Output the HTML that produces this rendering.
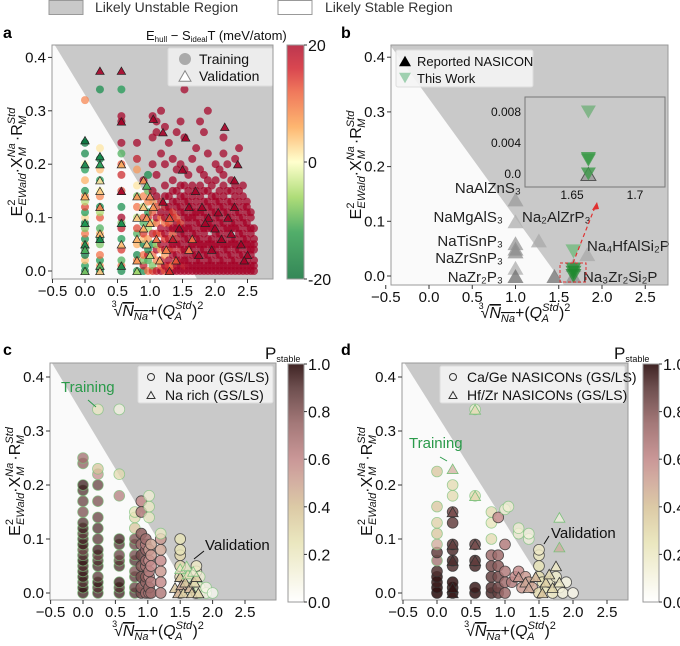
<!DOCTYPE html>
<html><head><meta charset="utf-8">
<style>
html,body{margin:0;padding:0;background:#fff;}
svg{display:block;font-family:"Liberation Sans",Arial,sans-serif;}
</style></head>
<body>
<svg id="fig" width="680" height="646" viewBox="0 0 680 646" xmlns="http://www.w3.org/2000/svg">
<defs>
<linearGradient id="rdylgn" x1="0" y1="1" x2="0" y2="0">
<stop offset="0" stop-color="#1e7a45"/><stop offset="0.2" stop-color="#3fa55a"/><stop offset="0.35" stop-color="#a6d96a"/>
<stop offset="0.5" stop-color="#ffffc8"/><stop offset="0.65" stop-color="#fdae61"/><stop offset="0.8" stop-color="#ee6a4a"/>
<stop offset="0.9" stop-color="#d5333d"/><stop offset="1" stop-color="#b5213c"/></linearGradient>
<linearGradient id="pinkr" x1="0" y1="1" x2="0" y2="0">
<stop offset="0" stop-color="#ffffff"/><stop offset="0.25" stop-color="#e8e4b8"/><stop offset="0.4" stop-color="#d8c49c"/>
<stop offset="0.5" stop-color="#cfa898"/><stop offset="0.6" stop-color="#c48c8c"/><stop offset="0.75" stop-color="#9a6a6a"/>
<stop offset="0.9" stop-color="#5e3c3c"/><stop offset="1" stop-color="#2a0c0c"/></linearGradient>
</defs>

<g>
<rect x="49" y="0.5" width="34" height="14" fill="#c9c9c9" stroke="#999"/>
<text x="95" y="12" font-size="14" fill="#333">Likely Unstable Region</text>
<rect x="278" y="0.5" width="34" height="14" fill="#fff" stroke="#999"/>
<text x="325" y="12" font-size="14" fill="#333">Likely Stable Region</text>
</g>

<text x="3" y="38" font-size="16" font-weight="bold">a</text>
<text x="341" y="38" font-size="16" font-weight="bold">b</text>
<text x="3" y="355" font-size="16" font-weight="bold">c</text>
<text x="341" y="355" font-size="16" font-weight="bold">d</text>

<g id="pa"></g>
<g id="pb"></g>
<g id="pc"></g>
<g id="pd"></g>
</svg>

<script>
const xTicks = [-0.5, 0.0, 0.5, 1.0, 1.5, 2.0, 2.5];
const xTickLabels = ["\u22120.5", "0.0", "0.5", "1.0", "1.5", "2.0", "2.5"];
const yTicks = [0.0, 0.1, 0.2, 0.3, 0.4];
const yTickLabels = ["0.0", "0.1", "0.2", "0.3", "0.4"];
const boundaryX = [-0.5, 1.65];
const boundaryY = [0.43, 0.0];
const boundaryBX = [-0.44, 1.56];
const boundaryBY = [0.42, -0.016];

const aColX = [0.0, 0.23, 0.56, 0.8, 0.9, 0.97, 1.04, 1.1, 1.17, 1.23, 1.29, 1.35, 1.41, 1.47, 1.53, 1.59, 1.65, 1.71, 1.77, 1.83, 1.89, 1.95, 2.01, 2.07, 2.13, 2.19, 2.25, 2.31, 2.37, 2.43, 2.49, 2.55, 2.6];
const aColY = [
 [0,.01,.02,.03,.04,.05,.06,.07,.08,.09,.1,.11,.12,.13,.14,.15,.17,.19,.2,.22,.24,.32],
 [0,.01,.02,.03,.05,.06,.07,.08,.1,.11,.12,.14,.15,.17,.19,.21,.23,.34],
 [0,.01,.02,.04,.06,.08,.09,.1,.12,.15,.18,.2,.22,.24,.28,.29,.34],
 [0,.02,.03,.05,.07,.08,.1,.12,.14,.16,.19,.21,.24],
 [0,.01,.02,.03,.05,.06,.07,.09,.1,.12,.14,.17],
 [0,.02,.03,.04,.06,.08,.1,.11,.13,.15,.18],
 [0,.01,.03,.05,.07,.09,.11,.13,.15,.2,.25,.29],
 [0,.02,.04,.05,.07,.09,.1,.12,.14,.18,.26,.28],
 [0,.01,.02,.04,.05,.07,.08,.1,.11,.13,.22,.3],
 [0,.01,.03,.04,.06,.07,.09,.1,.12,.14,.16,.2,.27],
 [0,.01,.02,.04,.05,.06,.08,.09,.11,.12,.14,.24],
 [0,.01,.03,.04,.05,.07,.08,.1,.11,.13,.15,.17,.21],
 [0,.01,.02,.03,.05,.06,.08,.09,.1,.12,.13,.15,.19,.26],
 [0,.01,.02,.04,.05,.07,.08,.09,.11,.12,.14,.16,.2,.28],
 [0,.01,.02,.03,.04,.06,.07,.08,.1,.11,.13,.14,.16,.19,.25,.34],
 [0,.01,.02,.04,.05,.06,.08,.09,.1,.12,.13,.15,.18],
 [0,.01,.03,.04,.05,.07,.08,.1,.11,.12,.14,.16,.21],
 [0,.01,.02,.03,.05,.06,.07,.09,.1,.11,.13,.15,.23],
 [0,.01,.02,.04,.05,.06,.08,.09,.11,.12,.14,.16,.19,.28],
 [0,.01,.03,.04,.05,.07,.08,.1,.11,.13,.15,.18,.26],
 [0,.01,.02,.03,.05,.06,.08,.09,.1,.12,.13,.15,.17,.22,.3],
 [0,.01,.02,.04,.05,.06,.08,.09,.11,.12,.14,.16],
 [0,.01,.03,.04,.05,.07,.08,.1,.11,.13,.14,.17,.2],
 [0,.01,.02,.03,.05,.06,.07,.09,.1,.12,.13,.15,.19],
 [0,.01,.02,.04,.05,.06,.08,.09,.11,.12,.14,.16,.18,.22,.25],
 [0,.01,.03,.04,.05,.07,.08,.1,.11,.13,.15,.2],
 [0,.01,.02,.03,.05,.06,.08,.09,.1,.12,.13,.15,.17],
 [0,.01,.02,.04,.05,.06,.08,.09,.11,.12,.14,.16,.21],
 [0,.01,.03,.04,.05,.07,.08,.1,.11,.13,.15,.23],
 [0,.01,.02,.03,.05,.06,.07,.09,.1,.12,.14,.16],
 [0,.01,.02,.04,.05,.06,.08,.09,.11,.12,.13],
 [0,.01,.03,.04,.05,.07,.08,.1,.11],
 [0,.01,.02,.04,.05,.06,.08]
];
const aColC = [
 [-15,-12,5,-18,-10,8,-14,12,-8,-16,3,-12,15,-5,10,-14,6,-12,0,-15,-18,10],
 [-16,8,-12,12,-8,-15,6,-10,14,-6,-14,10,0,-12,5,-16,2,-14],
 [-15,12,-10,16,-12,18,-8,20,-14,15,17,14,-10,20,20,20,-12],
 [-12,10,-15,6,-10,15,-5,12,-8,2,8,18,20],
 [-14,18,-8,12,-16,5,16,-10,14,-5,10,20],
 [12,-10,18,-14,8,-6,16,-12,10,-8,-14],
 [16,-8,12,-14,18,-5,14,8,20,20,20,20],
 [18,10,20,-6,16,12,20,14,20,20,20,20],
 [20,12,18,6,20,14,20,10,20,18,20,20],
 [14,20,8,20,16,20,12,20,18,20,20,20,20],
 [20,16,20,10,20,18,20,14,20,20,20,20],
 [20,12,20,18,20,14,20,20,16,20,20,20,20],
 [20,20,16,20,20,18,20,20,14,20,20,20,20,20],
 [20,20,20,18,20,20,20,16,20,20,20,20,20,20],
 [20,18,20,20,20,20,20,20,20,20,20,20,20,20,20,20],
 [20,20,20,20,20,20,20,20,20,20,20,20,20],
 [20,20,20,20,20,20,20,20,20,20,20,20,20],
 [20,20,20,20,20,20,20,20,20,20,20,20,20],
 [20,20,20,20,20,20,20,20,20,20,20,20,20,20],
 [20,20,20,20,20,20,20,20,20,20,20,20,20],
 [20,20,20,20,20,20,20,20,20,20,20,20,20,20,20],
 [20,20,20,20,20,20,20,20,20,20,20,20],
 [20,20,20,20,20,20,20,20,20,20,20,20,20],
 [20,20,20,20,20,20,20,20,20,20,20,20,20],
 [20,20,20,20,20,20,20,20,20,20,20,20,20,20,20],
 [20,20,20,20,20,20,20,20,20,20,20,20],
 [20,20,20,20,20,20,20,20,20,20,20,20,20],
 [20,20,20,20,20,20,20,20,20,20,20,20,20],
 [20,20,20,20,20,20,20,20,20,20,20,20],
 [20,20,20,20,20,20,20,20,20,20,20,20],
 [20,20,20,20,20,20,20,20,20,20,20],
 [20,20,20,20,20,20,20,20,20],
 [20,20,20,20,20,20,20]
];
const aTriX = [0,0,0,0,0,0,0,0.23,0.23,0.23,0.23,0.23,0.23,0.23,0.23,0.23,0.23,0.56,0.56,0.56,0.56,0.56,0.56,0.56,0.8,0.8,0.8,0.8,0.8,0.9,0.9,0.9,0.95,0.95,0.95,1.0,1.0,1.0,1.05,1.05,1.1,1.2,1.2,1.3,1.35,1.55,1.5,1.6,2.15,2.35,2.3,1.8,2.0,2.2,2.4,2.5,1.7,1.9,2.1,2.3,1.4,1.25,1.15,1.45,1.65,1.75,1.85,1.95,2.05,2.25,2.45,1.6,1.3];
const aTriY = [0.245,0.2,0.14,0.09,0.05,0.04,0.0,0.375,0.215,0.2,0.17,0.15,0.12,0.07,0.06,0.01,0.0,0.375,0.28,0.2,0.15,0.09,0.05,0.01,0.14,0.1,0.06,0.02,0.0,0.17,0.12,0.08,0.16,0.1,0.05,0.14,0.09,0.03,0.285,0.12,0.06,0.26,0.13,0.1,0.06,0.25,0.19,0.04,0.27,0.2,0.17,0.12,0.08,0.1,0.05,0.03,0.15,0.1,0.06,0.12,0.02,0.04,0.02,0.08,0.06,0.03,0.09,0.04,0.11,0.07,0.02,0.12,0.0];
const aTriC = [-18,-16,6,-12,-15,-10,-8,20,-15,-12,2,4,10,5,-14,-10,4,20,20,6,20,-14,5,-14,8,4,6,8,-6,8,4,6,-10,8,4,10,6,-5,20,8,12,20,20,14,18,20,20,10,20,20,20,20,20,20,20,20,20,20,20,20,14,10,6,20,12,20,20,20,20,20,20,20,16];

const bRepX = [1.0, 1.0, 1.0, 1.0, 1.0, 1.0, 1.0, 1.27, 1.45, 1.67, 1.67, 1.83];
const bRepY = [0.14, 0.10, 0.06, 0.05, 0.045, 0.015, 0.0, 0.065, 0.0, 0.0, 0.02, 0.04];
const bRepShade = [0.35, 0.2, 0.4, 0.45, 0.45, 0.2, 0.7, 0.25, 0.7, 0.45, 0.3, 0.25];
const bWorkX = [1.67, 1.67, 1.67, 1.67];
const bWorkY = [0.045, 0.012, 0.006, 0.0];
const bInsetWorkY = [0.008, 0.002, 0.0018, 0.0];
const bInsetRepY = [0.0];
const bInsetX = [1.663];
const bLabels = ["NaAlZnS\u2083", "NaMgAlS\u2083", "NaTiSnP\u2083", "NaZrSnP\u2083", "NaZr\u2082P\u2083", "Na\u2082AlZrP\u2083", "Na\u2084HfAlSi\u2082P", "Na\u2083Zr\u2082Si\u2082P"];

const cCircX = [0,0,0,0,0,0,0,0,0,0,0,0,0,0,0,0,0,0,0,0,
 0.23,0.23,0.23,0.23,0.23,0.23,0.23,0.23,0.23,0.23,0.23,0.23,0.23,0.23,0.23,0.23,
 0.56,0.56,0.56,0.56,0.56,0.56,0.56,0.56,0.56,0.56,0.56,
 0.8,0.8,0.8,0.8,0.8,0.8,0.8,0.8,0.8,0.8,0.8,
 0.9,0.9,0.9,0.9,0.9,0.9,0.9,0.9,0.9,
 0.97,0.97,0.97,0.97,0.97,0.97,0.97,0.97,
 1.02,1.02,1.02,1.02,1.02,1.02,1.02,1.02,1.02,
 1.05,1.05,1.05,1.05,1.05,
 1.2,1.2,1.2,1.2,1.2,1.2,1.2,
 1.5,1.5,1.5,1.5,1.5,1.5,
 1.62,1.62,1.75,1.75,1.75,1.75,1.8,1.8,1.8,1.9,1.9,2.0];
const cCircY = [0,.01,.02,.03,.04,.05,.06,.07,.08,.09,.1,.11,.12,.13,.15,.17,.19,.2,.24,.25,
 0,.01,.02,.03,.05,.06,.07,.08,.1,.12,.14,.17,.2,.22,.23,.34,
 0,.01,.02,.05,.06,.07,.09,.1,.18,.22,.34,
 0,.01,.03,.04,.06,.07,.09,.1,.12,.14,.15,
 0,.01,.03,.05,.07,.09,.11,.15,.17,
 0,.02,.03,.05,.06,.08,.09,.1,
 0,.01,.03,.04,.06,.08,.14,.16,.18,
 0,.02,.05,.07,.09,
 0,.02,.04,.06,.08,.1,.11,
 0,.03,.05,.07,.08,.1,
 .01,.03,0,.02,.04,.05,0,.01,.03,0,.01,0];
const cCircP = [0.95,0.98,0.9,0.97,0.95,0.92,0.98,0.9,0.85,0.97,0.93,0.88,0.95,0.9,0.8,0.85,0.9,0.95,0.75,0.7,
 0.95,0.9,0.97,0.88,0.93,0.9,0.85,0.95,0.88,0.9,0.85,0.8,0.85,0.6,0.4,0.2,
 0.95,0.9,0.97,0.92,0.88,0.85,0.9,0.93,0.65,0.3,0.1,
 0.9,0.85,0.88,0.8,0.9,0.82,0.85,0.8,0.4,0.3,0.25,
 0.8,0.75,0.8,0.78,0.82,0.7,0.75,0.65,0.6,
 0.7,0.72,0.75,0.68,0.7,0.72,0.65,0.7,
 0.65,0.7,0.6,0.65,0.6,0.55,0.2,0.2,0.15,
 0.7,0.65,0.6,0.55,0.5,
 0.65,0.6,0.55,0.6,0.5,0.55,0.2,
 0.35,0.3,0.3,0.3,0.25,0.25,
 0.2,0.15,0.3,0.25,0.2,0.2,0.2,0.15,0.15,0.1,0.08,0.05];
const cCircV = [0,0,0,0,0,0,0,0,0,0,0,0,0,0,0,0,0,0,0,0,
 0,0,0,0,0,0,0,0,0,0,0,0,0,0,0,0,
 0,0,0,0,0,0,0,0,0,0,0,
 0,0,0,0,0,0,0,0,0,0,0,
 1,1,1,1,1,1,1,1,1,
 1,1,1,1,1,1,1,1,
 1,1,1,1,1,1,0,0,0,
 1,1,1,1,1,
 1,1,1,1,1,1,0,
 1,1,1,1,1,1,
 0,0,1,1,1,1,0,0,0,0,0,0];
const cTriX = [1.42,1.47,1.5,1.52,1.55,1.58,1.62,1.65,1.68,1.72,1.75,1.78,1.5,1.6,1.7];
const cTriY = [0.01,0.0,0.03,0.015,0.0,0.02,0.035,0.01,0.0,0.02,0.03,0.0,0.045,0.05,0.04];
const cTriP = [0.4,0.45,0.4,0.5,0.35,0.4,0.3,0.45,0.35,0.3,0.35,0.3,0.2,0.2,0.15];
const cTriV = [1,1,1,1,1,1,0,1,1,1,1,1,0,0,0];

const dCircX = [0,0,0,0,0,0,0,0,0,0,0,0,
 0.23,0.23,0.23,0.23,0.23,0.23,0.23,0.23,0.23,0.23,0.23,
 0.56,0.56,0.56,0.56,0.56,0.56,0.56,
 0.8,0.8,0.8,0.8,0.8,0.8,0.8,0.8,
 0.9,0.9,0.9,0.9,0.9,0.9,
 1.0,1.0,1.0,1.0,1.0,1.05,
 1.1,1.15,1.2,1.25,1.3,1.35,1.4,1.2,1.2,1.35,1.35,
 1.5,1.5,1.5,1.5,1.5,1.55,1.6,1.65,1.7,1.75,1.8,1.85,1.9,2.0];
const dCircY = [0,.01,.02,.03,.04,.06,.075,.09,.11,.13,.16,.225,
 0,.01,.02,.05,.06,.08,.09,.13,.15,.18,.2,
 0,.01,.05,.06,.09,.18,.34,
 0,.01,.03,.05,.07,.1,.13,.15,
 0,.01,.03,.05,.07,.14,
 0,.02,.04,.09,.155,.16,
 .02,.03,.04,.01,.03,.02,.01,.11,.12,.1,.11,
 0,.03,.05,.07,.08,.02,.01,.02,.0,.03,.01,.0,.02,0];
const dCircP = [1,0.98,0.95,0.97,0.9,0.7,0.85,0.5,0.4,0.35,0.4,0.4,
 0.98,0.95,0.97,0.9,0.92,0.9,0.88,0.85,0.8,0.3,0.3,
 0.97,0.95,0.92,0.9,0.85,0.3,0.15,
 0.9,0.88,0.85,0.8,0.7,0.3,0.25,0.3,
 0.85,0.82,0.8,0.75,0.7,0.6,
 0.7,0.7,0.65,0.65,0.15,0.15,
 0.65,0.6,0.6,0.55,0.55,0.5,0.5,0.15,0.15,0.12,0.12,
 0.3,0.28,0.25,0.22,0.2,0.25,0.25,0.2,0.2,0.18,0.15,0.12,0.1,0.08];
const dCircV = [1,1,1,1,1,0,1,0,0,0,0,0,
 1,1,1,1,1,1,1,1,1,0,0,
 1,1,1,1,1,0,0,
 1,1,1,1,1,0,0,0,
 1,1,1,1,1,1,
 1,1,1,1,0,0,
 1,1,1,1,1,1,1,0,0,0,0,
 1,1,1,1,1,1,1,1,1,1,1,1,1,1];
const dTriX = [0.23,0.23,0.23,0.23,0.23,0.23,0.56,0.56,0.56,0.56,1.2,1.3,1.35,1.45,1.55,1.6,1.65,1.7,1.75,1.8,1.8,1.8];
const dTriY = [0,0.01,0.06,0.09,0.15,0.23,0.34,0.18,0.06,0.09,0.03,0.02,0.01,0.03,0.0,0.02,0.035,0.01,0.05,0.02,0.14,0.085];
const dTriP = [0.95,0.97,0.9,0.85,0.8,0.5,0.3,0.3,0.85,0.8,0.55,0.5,0.5,0.45,0.4,0.35,0.3,0.3,0.2,0.2,0.1,0.5];
const dTriV = [1,1,1,1,1,0,0,0,1,1,1,1,1,1,1,1,1,1,1,1,0,0];

const NS = "http://www.w3.org/2000/svg";
function mk(parent, tag, attrs) {
  const e = document.createElementNS(NS, tag);
  for (const k in attrs) e.setAttribute(k, attrs[k]);
  parent.appendChild(e);
  return e;
}
function lerpStops(stops, t) {
  t = Math.max(0, Math.min(1, t));
  for (let i = 1; i < stops.length; i++) {
    if (t <= stops[i][0]) {
      const a = stops[i-1], b = stops[i], f = (t - a[0]) / (b[0] - a[0] || 1);
      const c = [0,1,2].map(j => Math.round(a[1][j] + (b[1][j]-a[1][j]) * f));
      return "rgb(" + c.join(",") + ")";
    }
  }
  return "rgb(" + stops[stops.length-1][1].join(",") + ")";
}
const RDYLGN = [[0,[0,104,55]],[0.2,[26,152,80]],[0.35,[166,217,106]],[0.5,[255,255,191]],[0.65,[253,174,97]],[0.8,[244,109,67]],[0.9,[215,48,39]],[1,[165,0,38]]];
const PINKR = [[0,[255,255,255]],[0.25,[232,228,184]],[0.4,[216,196,156]],[0.5,[207,168,152]],[0.6,[196,140,140]],[0.75,[140,92,92]],[0.9,[80,48,48]],[1,[38,8,8]]];
function rdylgn(v) { return lerpStops(RDYLGN, (v + 20) / 40); }
function pinkr(p) { return lerpStops(PINKR, p); }
function triPts(cx, cy, s, down) {
  const h = s * 0.87;
  if (down) return (cx - s/2) + "," + (cy - h/2) + " " + (cx + s/2) + "," + (cy - h/2) + " " + cx + "," + (cy + h/2);
  return (cx - s/2) + "," + (cy + h/2) + " " + (cx + s/2) + "," + (cy + h/2) + " " + cx + "," + (cy - h/2);
}

function axesFrame(g, P, bx, by) {
  const bg = mk(g, "rect", {x:P.l, y:P.t, width:P.r-P.l, height:P.b-P.t, fill:"#fafafa"});
  
  
  const slope = (by[1]-by[0])/(bx[1]-bx[0]);
  const yTop = P.Yi(P.t), yBot = P.Yi(P.b);
  const xTop = bx[0] + (yTop - by[0]) / slope;
  const xBot = bx[0] + (yBot - by[0]) / slope;
  const poly = mk(g, "polygon", {points: P.X(xTop)+","+P.t+" "+P.r+","+P.t+" "+P.r+","+P.b+" "+P.X(xBot)+","+P.b, fill:"#c9c9c9"});
  
  
}
function axesDecor(g, P, xlabY) {
  const fr = mk(g, "rect", {x:P.l, y:P.t, width:P.r-P.l, height:P.b-P.t, fill:"none", stroke:"#999", "stroke-width":1});
  
  
  xTicks.forEach((v, i) => {
    const x = P.X(v);
    const tk = mk(g, "line", {x1:x, x2:x, y1:P.b, y2:P.b+4, stroke:"#333"});
    
    
    const t = mk(g, "text", {x:x, y:P.b+17, "font-size":15, "text-anchor":"middle", fill:"#111"});
    t.textContent = xTickLabels[i];
    
    
  });
  yTicks.forEach((v, i) => {
    const y = P.Y(v);
    const tk = mk(g, "line", {x1:P.l-4, x2:P.l, y1:y, y2:y, stroke:"#333"});
    
    
    const t = mk(g, "text", {x:P.l-6, y:y+5, "font-size":15, "text-anchor":"end", fill:"#111"});
    t.textContent = yTickLabels[i];
    
    
  });
  const cy = (P.t + P.b) / 2, cx = P.l - 30;
  const yt = mk(g, "text", {x:0, y:0, "font-size":16, "text-anchor":"middle", fill:"#111", transform:"translate("+cx+","+cy+") rotate(-90)"});
  
  
  yt.innerHTML = 'E<tspan font-size="11" dy="-7">2</tspan><tspan font-size="11" font-style="italic" dx="-6" dy="11">EWald</tspan><tspan dy="-4">·X</tspan><tspan font-size="11" font-style="italic" dy="-7">Na</tspan><tspan font-size="11" font-style="italic" dx="-13" dy="11">M</tspan><tspan dx="6" dy="-4">·R</tspan><tspan font-size="11" font-style="italic" dy="-7">Std</tspan><tspan font-size="11" font-style="italic" dx="-17" dy="11">M</tspan>';
  const xc = (P.l + P.r) / 2 - 5;
  const xt = mk(g, "text", {x:xc, y:xlabY, "font-size":16, "text-anchor":"middle", fill:"#111"});
  
  
  xt.innerHTML = '<tspan font-size="9" dy="-9">3</tspan><tspan dx="-3" dy="9">√</tspan><tspan font-style="italic" text-decoration="overline">N<tspan font-size="11" dy="4">Na</tspan></tspan><tspan dy="-4">+(</tspan><tspan font-style="italic">Q</tspan><tspan font-size="11" font-style="italic" dy="-7">Std</tspan><tspan font-size="11" font-style="italic" dx="-17" dy="11">A</tspan><tspan dx="10" dy="-4">)</tspan><tspan font-size="11" dy="-7">2</tspan>';
}
function mkPanel(l, r, t, b, x0, sx, y0, sy) {
  return {l, r, t, b, X: v => x0 + sx * v, Y: v => y0 - sy * v, Yi: p => (y0 - p) / sy};
}
function colorbar(g, x, y0, y1, w, grad, ticks, labels) {
  const cb = mk(g, "rect", {x:x, y:y0, width:w, height:y1-y0, fill:"url(#"+grad+")", stroke:"#999", "fill-opacity":0.9});
  
  
  ticks.forEach((f, i) => {
    const y = y1 - (y1 - y0) * f;
    const tk = mk(g, "line", {x1:x+w, x2:x+w+3, y1:y, y2:y, stroke:"#333"});
    
    
    const tx = mk(g, "text", {x:x+w+4, y:y+6, "font-size":16, fill:"#111"});
    tx.textContent = labels[i];
    
    
  });
}

(function(){
  const g = document.getElementById("pa");
  const P = mkPanel(52, 273, 45, 279, 85, 65, 271, 534);
  axesFrame(g, P, boundaryX, boundaryY);
  aColX.forEach((x, i) => {
    aColY[i].forEach((y, j) => {
      const c = mk(g, "circle", {cx:P.X(x), cy:P.Y(y), r:4, fill:rdylgn(aColC[i][j]), "fill-opacity":0.72});
      
      
    });
  });
  aTriX.forEach((x, i) => {
    const t = mk(g, "polygon", {points:triPts(P.X(x), P.Y(aTriY[i]), 8.5, false), fill:rdylgn(aTriC[i]), stroke:"#222", "stroke-width":0.7, "fill-opacity":0.9});
    
    
  });
  const lg = mk(g, "rect", {x:168, y:48, width:105, height:38, fill:"#f2f2f2", "fill-opacity":0.85, stroke:"#ddd", rx:2});
  
  
  const lc = mk(g, "circle", {cx:185, cy:59, r:6, fill:"#aaa"});
  
  
  const lt1 = mk(g, "text", {x:199, y:64, "font-size":14, fill:"#111"}); lt1.textContent = "Training";
  
  
  const ltr = mk(g, "polygon", {points:triPts(185, 76, 12, false), fill:"#fff", stroke:"#888"});
  
  
  const lt2 = mk(g, "text", {x:199, y:81, "font-size":14, fill:"#111"}); lt2.textContent = "Validation";
  
  
  axesDecor(g, P, 316);
  colorbar(g, 287, 45, 279, 17, "rdylgn", [1, 0.5, 0], ["20", "0", "-20"]);
  const ct = mk(g, "text", {x:146, y:40, "font-size":13, fill:"#111"});
  
  
  ct.innerHTML = 'E<tspan font-size="8" dy="2">hull</tspan><tspan dy="-2"> − S</tspan><tspan font-size="8" dy="2">ideal</tspan><tspan dy="-2">T (meV/atom)</tspan>';
})();

(function(){
  const g = document.getElementById("pb");
  const P = mkPanel(391, 668, 45, 285, 429, 86.5, 276, 547);
  axesFrame(g, P, boundaryBX, boundaryBY);
  bRepX.forEach((x, i) => {
    const s = bRepShade[i];
    const v = Math.round(200 - 130 * s);
    const t = mk(g, "polygon", {points:triPts(P.X(x), P.Y(bRepY[i]), 16, false), fill:"rgb("+v+","+v+","+v+")", "fill-opacity":0.75});
    
    
  });
  bWorkX.forEach((x, i) => {
    const t = mk(g, "polygon", {points:triPts(P.X(x), P.Y(bWorkY[i]), 16, true), fill:i===0?"#6cb878":"#1e8a2e", "fill-opacity":0.75});
    
    
  });
  const lx = [521,503,503,503,503,522,587,583];
  const ly = [193,222,246,263,282,222,251,282];
  const la = ["end","end","end","end","end","start","start","start"];
  bLabels.forEach((s, i) => {
    const t = mk(g, "text", {x:lx[i], y:ly[i], "font-size":15, fill:"#222", "text-anchor":la[i]});
    t.textContent = s;
    
    
  });
  const db = mk(g, "rect", {x:560, y:263, width:26, height:19, fill:"none", stroke:"#e03030", "stroke-dasharray":"3,2", "stroke-width":1});
  
  
  const ar = mk(g, "line", {x1:573, y1:263, x2:595, y2:207, stroke:"#e03030", "stroke-dasharray":"4,3", "stroke-width":1.2});
  
  
  const ah = mk(g, "polygon", {points:"597,202 592,210 599,209", fill:"#e03030"});
  
  
  const IX = v => 572 + (v - 1.65) * 1260, IY = v => 174 - v * 7750;
  const ib = mk(g, "rect", {x:525, y:97, width:140, height:90, fill:"#c9c9c9", stroke:"#777"});
  
  
  [[0.008,"0.008"],[0.004,"0.004"],[0.0,"0.0"]].forEach(a => {
    const t = mk(g, "text", {x:521, y:IY(a[0])+4, "font-size":12, "text-anchor":"end", fill:"#111"}); t.textContent = a[1];
    
    
  });
  [[1.65,"1.65"],[1.7,"1.7"]].forEach(a => {
    const t = mk(g, "text", {x:IX(a[0]), y:199, "font-size":12, "text-anchor":"middle", fill:"#111"}); t.textContent = a[1];
    
    
  });
  bInsetRepY.forEach(y => {
    const t = mk(g, "polygon", {points:triPts(IX(bInsetX[0]), IY(y), 15, false), fill:"#888", "fill-opacity":0.6, stroke:"#555"});
    
    
  });
  bInsetWorkY.forEach((y, i) => {
    const t = mk(g, "polygon", {points:triPts(IX(bInsetX[0]), IY(y), 15, true), fill:i===0?"#72b07a":"#3c9a48", "fill-opacity":0.8});
    
    
  });
  const lg = mk(g, "rect", {x:396, y:50, width:137, height:37, fill:"#f4f4f4", "fill-opacity":0.9, stroke:"#ddd", rx:2});
  
  
  const m1 = mk(g, "polygon", {points:triPts(405, 61, 12, false), fill:"#000"});
  
  
  const t1 = mk(g, "text", {x:417, y:66, "font-size":13, fill:"#111"}); t1.textContent = "Reported NASICON";
  
  
  const m2 = mk(g, "polygon", {points:triPts(405, 78, 12, true), fill:"#9fd0b0"});
  
  
  const t2 = mk(g, "text", {x:417, y:83, "font-size":13, fill:"#111"}); t2.textContent = "This Work";
  
  
  axesDecor(g, P, 318);
})();

function pPanel(id, P, cx, cy, cp, cv, tx, ty, tp, tv, leg1, leg2, legBox, cbx, trainTxt, trainArrow, valTxt, valArrow, ptitleX) {
  const g = document.getElementById(id);
  axesFrame(g, P, boundaryX, boundaryY);
  cx.forEach((x, i) => {
    const val = cv[i] === 1;
    const c = mk(g, "circle", {cx:P.X(x), cy:P.Y(cy[i]), r:5.4, fill:pinkr(cp[i]), "fill-opacity":val?0.85:0.75, stroke:val?"#333":"#7cc07c", "stroke-width":0.8, "stroke-opacity":val?0.8:0.7});
    
    
  });
  tx.forEach((x, i) => {
    const val = tv[i] === 1;
    const t = mk(g, "polygon", {points:triPts(P.X(x), P.Y(ty[i]), 11, false), fill:pinkr(tp[i]), "fill-opacity":val?0.85:0.7, stroke:val?"#333":"#7cc07c", "stroke-width":0.8});
    
    
  });
  const lg = mk(g, "rect", {x:legBox[0], y:legBox[1], width:legBox[2], height:legBox[3], fill:"#f4f4f4", "fill-opacity":0.9, stroke:"#ddd", rx:2});
  
  
  const lc = mk(g, "circle", {cx:legBox[0]+13, cy:legBox[1]+11, r:3.5, fill:"none", stroke:"#333"});
  
  
  const l1 = mk(g, "text", {x:legBox[0]+27, y:legBox[1]+16, "font-size":14, fill:"#111"}); l1.textContent = leg1;
  
  
  const lt = mk(g, "polygon", {points:triPts(legBox[0]+13, legBox[1]+29, 8, false), fill:"none", stroke:"#333"});
  
  
  const l2 = mk(g, "text", {x:legBox[0]+27, y:legBox[1]+34, "font-size":14, fill:"#111"}); l2.textContent = leg2;
  
  
  const tr = mk(g, "text", {x:trainTxt[0], y:trainTxt[1], "font-size":15, fill:"#2a9a4a"}); tr.textContent = "Training";
  
  
  const ta = mk(g, "line", {x1:trainArrow[0], y1:trainArrow[1], x2:trainArrow[2], y2:trainArrow[3], stroke:"#2a9a4a", "stroke-width":1});
  
  
  const va = mk(g, "text", {x:valTxt[0], y:valTxt[1], "font-size":15, fill:"#111"}); va.textContent = "Validation";
  
  
  const vl = mk(g, "line", {x1:valArrow[0], y1:valArrow[1], x2:valArrow[2], y2:valArrow[3], stroke:"#111", "stroke-width":1});
  
  
  axesDecor(g, P, 636);
  colorbar(g, cbx, 364, 602, 16, "pinkr", [1,0.8,0.6,0.4,0.2,0], ["1.0","0.8","0.6","0.4","0.2","0.0"]);
  const pt = mk(g, "text", {x:ptitleX, y:359, "font-size":17, fill:"#111"});
  
  
  pt.innerHTML = 'P<tspan font-size="9" dy="3">stable</tspan>';
}
pPanel("pc", mkPanel(50, 276, 363, 600, 83, 64.8, 593, 540),
  cCircX, cCircY, cCircP, cCircV, cTriX, cTriY, cTriP, cTriV,
  "Na poor (GS/LS)", "Na rich (GS/LS)", [138, 366, 135, 37], 288,
  [61, 392], [88, 400, 96, 407], [205, 550], [204, 551, 194, 559], 265);
pPanel("pd", mkPanel(402, 628, 363, 600, 437, 68, 593, 540),
  dCircX, dCircY, dCircP, dCircV, dTriX, dTriY, dTriP, dTriV,
  "Ca/Ge NASICONs (GS/LS)", "Hf/Zr NASICONs (GS/LS)", [440, 366, 185, 37], 643,
  [409, 448], [440, 457, 447, 461], [551, 538], [549, 536, 544, 544], 614);
</script>
</body></html>
